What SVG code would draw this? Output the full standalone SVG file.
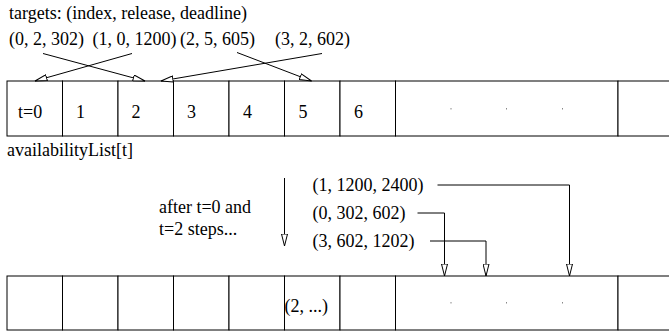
<svg xmlns="http://www.w3.org/2000/svg" width="669" height="333" viewBox="0 0 669 333" font-family="Liberation Serif, Times New Roman, Times, serif" font-size="18">
<style>
text{font-family:'Liberation Serif','Times New Roman',Times,serif;font-size:18px;fill:#000}
.cell{fill:#fff;stroke:#000;stroke-width:1}
.con{fill:none;stroke:#000;stroke-width:1}
.dot{fill:#888}
</style>
<defs>
<marker id="ah" viewBox="0 0 13 7" refX="12.5" refY="3.5" markerWidth="13" markerHeight="7" markerUnits="userSpaceOnUse" orient="auto">
<path d="M0.5,0.5 L12.5,3.5 L0.5,6.5 Z" fill="#fff" stroke="#000" stroke-width="1"/>
</marker>
</defs>
<rect width="669" height="333" fill="#fff"/>

<g id="labels-top">
<text x="9" y="19">targets: (index, release, deadline)</text>
<text x="9" y="45">(0, 2, 302)</text>
<text x="92.5" y="45">(1, 0, 1200)</text>
<text x="180" y="45">(2, 5, 605)</text>
<text x="275" y="45">(3, 2, 602)</text>
</g>

<g id="row-top">
<g id="t0"><rect class="cell" x="7" y="81" width="55.5" height="55"/><text x="18" y="118">t=0</text></g>
<g id="t1"><rect class="cell" x="62.5" y="81" width="55.5" height="55"/><text x="76" y="118">1</text></g>
<g id="t2"><rect class="cell" x="118" y="81" width="55.5" height="55"/><text x="131.5" y="118">2</text></g>
<g id="t3"><rect class="cell" x="173.5" y="81" width="55.5" height="55"/><text x="187" y="118">3</text></g>
<g id="t4"><rect class="cell" x="229" y="81" width="55.5" height="55"/><text x="243" y="118">4</text></g>
<g id="t5"><rect class="cell" x="284.5" y="81" width="55.5" height="55"/><text x="298.5" y="118">5</text></g>
<g id="t6"><rect class="cell" x="340" y="81" width="55.5" height="55"/><text x="354" y="118">6</text></g>
<g id="tdots"><rect class="cell" x="395.5" y="81" width="222.5" height="55"/>
<rect class="dot" x="450.5" y="108" width="1" height="1.5"/><rect class="dot" x="506" y="108" width="1" height="1.5"/><rect class="dot" x="562" y="108" width="1" height="1.5"/></g>
<g id="tend"><rect class="cell" x="618" y="81" width="70" height="55"/></g>
</g>
<text x="7" y="156">availabilityList[t]</text>

<g id="note">
<text x="159" y="213">after t=0 and</text>
<text x="159" y="234.5">t=2 steps...</text>
</g>

<g id="labels-new">
<text x="312.5" y="191">(1, 1200, 2400)</text>
<text x="312.5" y="218.5">(0, 302, 602)</text>
<text x="312.5" y="246.5">(3, 602, 1202)</text>
</g>

<g id="row-bottom">
<g id="b0"><rect class="cell" x="7" y="276" width="55.5" height="54"/></g>
<g id="b1"><rect class="cell" x="62.5" y="276" width="55.5" height="54"/></g>
<g id="b2"><rect class="cell" x="118" y="276" width="55.5" height="54"/></g>
<g id="b3"><rect class="cell" x="173.5" y="276" width="55.5" height="54"/></g>
<g id="b4"><rect class="cell" x="229" y="276" width="55.5" height="54"/></g>
<g id="b5"><rect class="cell" x="284.5" y="276" width="55.5" height="54"/><text x="284.5" y="311.5">(2, ...)</text></g>
<g id="b6"><rect class="cell" x="340" y="276" width="55.5" height="54"/></g>
<g id="bdots"><rect class="cell" x="395.5" y="276" width="222.5" height="54"/>
<rect class="dot" x="450.5" y="302" width="1" height="1.5"/><rect class="dot" x="506" y="302" width="1" height="1.5"/><rect class="dot" x="562" y="302" width="1" height="1.5"/></g>
<g id="bend"><rect class="cell" x="618" y="276" width="70" height="54"/></g>
</g>

<g id="connectors">
<line class="con" x1="43" y1="53.5" x2="145" y2="81" marker-end="url(#ah)"/>
<line class="con" x1="132" y1="53.5" x2="35" y2="81" marker-end="url(#ah)"/>
<line class="con" x1="237" y1="52.5" x2="311.5" y2="81" marker-end="url(#ah)"/>
<line class="con" x1="322" y1="53.5" x2="161" y2="81" marker-end="url(#ah)"/>
<line class="con" x1="284.5" y1="178" x2="284.5" y2="246" marker-end="url(#ah)"/>
<polyline class="con" points="437.5,185 569.5,185 569.5,276" marker-end="url(#ah)"/>
<polyline class="con" points="417.5,213 444.5,213 444.5,276" marker-end="url(#ah)"/>
<polyline class="con" points="430,241 486,241 486,276" marker-end="url(#ah)"/>
</g>
</svg>
